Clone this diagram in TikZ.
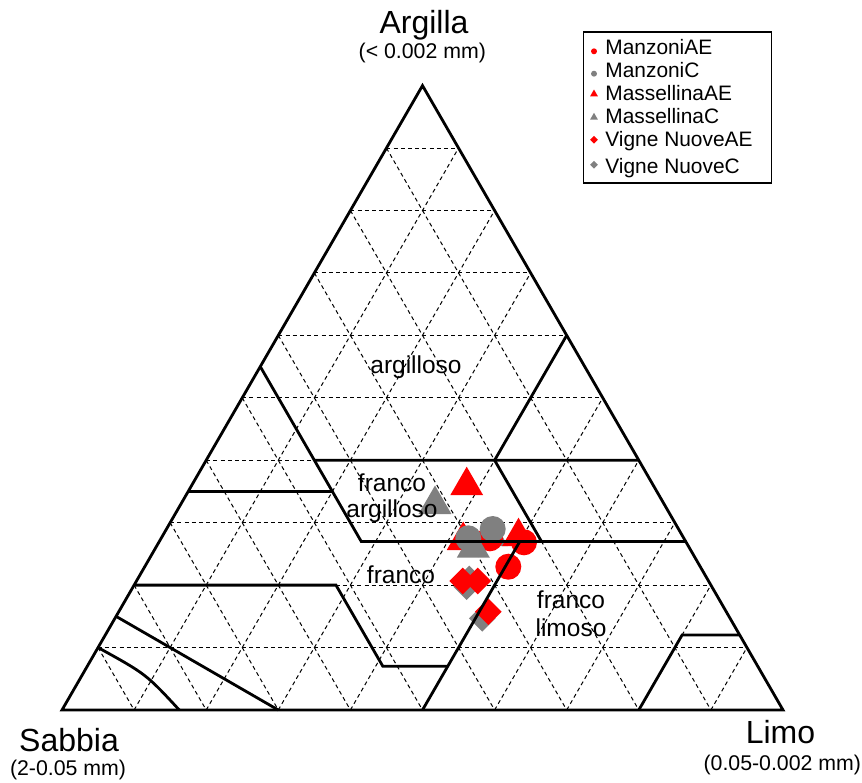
\documentclass[tikz,border=0pt]{standalone}
\usepackage{fontspec}
\setmainfont{Liberation Sans}
\usetikzlibrary{shapes.geometric}

\definecolor{aeRed}{RGB}{255,0,0}
\definecolor{cGray}{RGB}{128,128,128}

\tikzstyle{gridLine}=[black,line width=0.5pt,dash pattern=on 2pt off 1.6pt]
\tikzstyle{classLine}=[black,line width=1.4pt]
\tikzstyle{circPoint}=[shape=circle,inner sep=0pt,minimum size=13pt]
\tikzstyle{triPoint}=[shape=regular polygon,regular polygon sides=3,inner sep=0pt,minimum size=19pt]
\tikzstyle{diaPoint}=[shape=diamond,inner sep=0pt,minimum size=13.5pt]
\tikzstyle{axisLabel}=[font=\fontsize{16}{19}\selectfont,anchor=base,inner sep=0pt]
\tikzstyle{sizeLabel}=[font=\fontsize{10.65}{12.8}\selectfont,anchor=base,inner sep=0pt]
\tikzstyle{classLabel}=[font=\fontsize{12.25}{13}\selectfont,align=center,inner sep=0pt]
\tikzstyle{legendText}=[font=\fontsize{10.45}{12.5}\selectfont,anchor=base west,inner sep=0pt]

\begin{document}
\begin{tikzpicture}[x=0.5pt,y=-0.5pt]
        \useasboundingbox (0,0) rectangle (862,782);
        \coordinate (sab) at (62,710);
        \coordinate (lim) at (783,710);
        \coordinate (arg) at (422.5,85.6);

        % grid every 10%
        \foreach \i in {1,...,9} {
            \pgfmathsetmacro{\p}{\i/10}
            \pgfmathsetmacro{\q}{1-\p}
            \draw[gridLine] (barycentric cs:sab=\q,lim=0,arg=\p) -- (barycentric cs:sab=0,lim=\q,arg=\p);
            \draw[gridLine] (barycentric cs:sab=\p,lim=0,arg=\q) -- (barycentric cs:sab=\p,lim=\q,arg=0);
            \draw[gridLine] (barycentric cs:sab=\q,lim=\p,arg=0) -- (barycentric cs:sab=0,lim=\p,arg=\q);
        }

        % samples
        \node[triPoint,fill=cGray]  (gt3) at (491.5,536.5) {};
        \node[circPoint,fill=aeRed] (rc1) at (490,538.3) {};
        \node[circPoint,fill=aeRed] (rc2) at (508.3,566.7) {};
        \node[circPoint,fill=aeRed] (rc3) at (524,542.3) {};
        \node[triPoint,fill=aeRed]  (rt1) at (466.7,485.7) {};
        \node[triPoint,fill=aeRed]  (rt2) at (463.2,540.5) {};
        \node[triPoint,fill=aeRed]  (rt3) at (518.5,536.7) {};
        \node[circPoint,fill=cGray] (gc1) at (492.7,529) {};
        \node[circPoint,fill=cGray] (gc2) at (468.3,538.3) {};
        \node[triPoint,fill=cGray]  (gt1) at (435,504.5) {};
        \node[triPoint,fill=cGray]  (gt2) at (473.3,548) {};
        \node[diaPoint,fill=cGray]  (gd1) at (469.3,579) {};
        \node[diaPoint,fill=cGray]  (gd2) at (466.7,586.7) {};
        \node[diaPoint,fill=cGray]  (gd3) at (482.3,618.3) {};
        \node[diaPoint,fill=aeRed]  (rd1) at (462.7,581) {};
        \node[diaPoint,fill=aeRed]  (rd2) at (477.7,581) {};
        \node[diaPoint,fill=aeRed]  (rd3) at (488.3,611.7) {};

        % class boundaries
        \coordinate (a) at (barycentric cs:sab=.90,lim=0,arg=.10);
        \coordinate (b) at (179.3,710);
        \coordinate (c) at (barycentric cs:sab=.85,lim=0,arg=.15);
        \coordinate (d) at (barycentric cs:sab=.70,lim=.30,arg=0);
        \coordinate (e) at (barycentric cs:sab=.80,lim=0,arg=.20);
        \coordinate (f) at (barycentric cs:sab=.52,lim=.28,arg=.20);
        \coordinate (g) at (barycentric cs:sab=.52,lim=.41,arg=.07);
        \coordinate (h) at (barycentric cs:sab=.43,lim=.50,arg=.07);
        \coordinate (i) at (barycentric cs:sab=.50,lim=.50,arg=0);
        \coordinate (j) at (barycentric cs:sab=.23,lim=.50,arg=.27);
        \coordinate (k) at (barycentric cs:sab=.45,lim=.28,arg=.27);
        \coordinate (l) at (barycentric cs:sab=.45,lim=0,arg=.55);
        \coordinate (m) at (barycentric cs:sab=0,lim=.73,arg=.27);
        \coordinate (n) at (barycentric cs:sab=.65,lim=0,arg=.35);
        \coordinate (o) at (barycentric cs:sab=.45,lim=.20,arg=.35);
        \coordinate (p) at (barycentric cs:sab=.45,lim=.15,arg=.40);
        \coordinate (q) at (barycentric cs:sab=0,lim=.60,arg=.40);
        \coordinate (r) at (barycentric cs:sab=.20,lim=.53,arg=.27);
        \coordinate (s) at (barycentric cs:sab=.20,lim=.40,arg=.40);
        \coordinate (t) at (barycentric cs:sab=0,lim=.40,arg=.60);
        \coordinate (u) at (barycentric cs:sab=.20,lim=.80,arg=0);
        \coordinate (v) at (barycentric cs:sab=.08,lim=.80,arg=.12);
        \coordinate (w) at (barycentric cs:sab=0,lim=.88,arg=.12);

        \draw[classLine] (a) .. controls (146,674) .. (b);
        \draw[classLine] (c) -- (d);
        \draw[classLine] (e) -- (f) -- (g) -- (h);
        \draw[classLine] (i) -- (j);
        \draw[classLine] (l) -- (k) -- (m);
        \draw[classLine] (n) -- (o);
        \draw[classLine] (p) -- (q);
        \draw[classLine] (r) -- (s) -- (t);
        \draw[classLine] (u) -- (v) -- (w);
        \draw[classLine] (sab) -- (lim) -- (arg) -- cycle;

        % class names
        \node[classLabel] (cl1) at (416,367) {argilloso};
        \node[classLabel] (cl2) at (392,498) {franco\\argilloso};
        \node[classLabel,anchor=base] (cl3) at (401,583.3) {franco};
        \node[classLabel,font=\fontsize{12.25}{14.2}\selectfont] (cl4) at (571,614) {franco\\limoso};

        % axes
        \node[axisLabel] (argTitle) at (424,33) {Argilla};
        \node[sizeLabel] (argSize) at (422.3,58.3) {(< 0.002 mm)};
        \node[axisLabel] (sabTitle) at (69,751) {Sabbia};
        \node[sizeLabel] (sabSize) at (68,775) {(2-0.05 mm)};
        \node[axisLabel] (limTitle) at (780.5,743.3) {Limo};
        \node[sizeLabel] (limSize) at (782.3,770) {(0.05-0.002 mm)};

        % legend
        \draw[line width=0.6pt] (583.3,32) rectangle (771.7,183);
        \node[circPoint,fill=aeRed,minimum size=3pt]  (lg1) at (594,51.3) {};
        \node[circPoint,fill=cGray,minimum size=3pt]  (lg2) at (594,73.7) {};
        \node[triPoint,fill=aeRed,minimum size=4.5pt] (lg3) at (594,94) {};
        \node[triPoint,fill=cGray,minimum size=4.5pt] (lg4) at (594,117.3) {};
        \node[diaPoint,fill=aeRed,minimum size=4pt]   (lg5) at (594,139.7) {};
        \node[diaPoint,fill=cGray,minimum size=4pt]   (lg6) at (594,164.7) {};
        \node[legendText] (lt1) at (605,54.7) {ManzoniAE};
        \node[legendText] (lt2) at (605,77.3) {ManzoniC};
        \node[legendText] (lt3) at (605,100.7) {MassellinaAE};
        \node[legendText] (lt4) at (605,123) {MassellinaC};
        \node[legendText] (lt5) at (605,146.3) {Vigne NuoveAE};
        \node[legendText] (lt6) at (605,173) {Vigne NuoveC};
\end{tikzpicture}
\end{document}
